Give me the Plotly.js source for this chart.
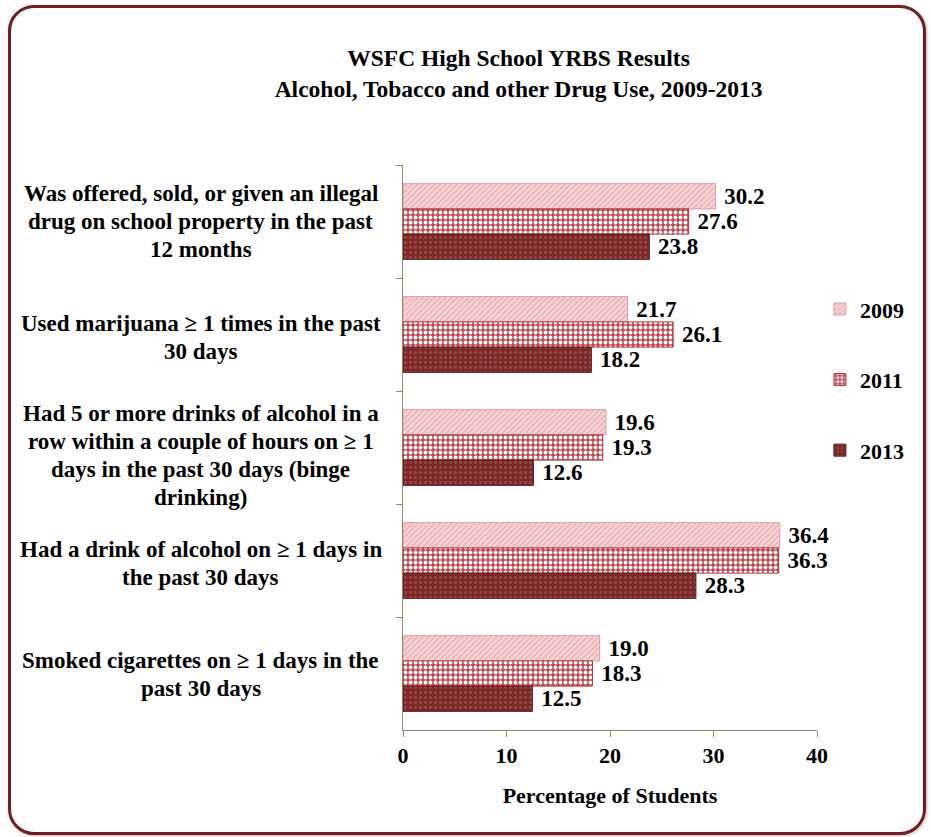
<!DOCTYPE html>
<html>
<head>
<meta charset="utf-8">
<script src="https://cdn.plot.ly/plotly-3.0.1.min.js"></script>
<style>
html,body{margin:0;padding:0;background:#fff;}
#wrap{position:relative;width:931px;height:837px;overflow:hidden;}
#chart{position:absolute;left:0;top:0;width:931px;height:837px;}
#frame{position:absolute;left:8px;top:5px;width:912px;height:824px;border:3px solid #6e1e1e;border-radius:26px;pointer-events:none;box-shadow:1px 1px 3px rgba(110,30,30,0.35);}
</style>
</head>
<body>
<div id="wrap"><div id="chart"></div><div id="frame"></div></div>
<script>
const categories = [
  "Was offered, sold, or given an illegal<br>drug on school property in the past<br>12 months",
  "Used marijuana ≥ 1 times in the past<br>30 days",
  "Had 5 or more drinks of alcohol in a<br>row within a couple of hours on ≥ 1<br>days in the past 30 days (binge<br>drinking)",
  "Had a drink of alcohol on ≥ 1 days in<br>the past 30 days",
  "Smoked cigarettes on ≥ 1 days in the<br>past 30 days"
];
const years = ["2009", "2011", "2013"];
const values2009 = [30.2, 21.7, 19.6, 36.4, 19.0];
const values2011 = [27.6, 26.1, 19.3, 36.3, 18.3];
const values2013 = [23.8, 18.2, 12.6, 28.3, 12.5];
const xTicks = [0, 10, 20, 30, 40];

const serif = "'Liberation Serif', 'Times New Roman', serif";
const series = [values2009, values2011, values2013];
const styles = [
  {color:"#f5c9cc", line:"#e29aa0", pattern:{shape:"/", fgcolor:"#e7a7ac", bgcolor:"#f8d6d8", size:4, solidity:0.3}},
  {color:"#c44a53", line:"#a8343d", pattern:{shape:".", fgcolor:"#ffffff", bgcolor:"#c24852", size:5, solidity:0.45}},
  {color:"#7b2828", line:"#5e1a1a", pattern:{shape:".", fgcolor:"#9a4a4a", bgcolor:"#7b2828", size:5, solidity:0.25}}
];
// small vertical nudges (px) of the category label blocks
const labelNudge = [0, -3, -8, -3, -1];

const traces = years.map((yr, i) => ({
  type: "bar",
  orientation: "h",
  name: "<b>" + yr + "</b>",
  legendgroup: yr,
  y: categories,
  x: series[i],
  marker: {color: styles[i].color, line: {color: styles[i].line, width: 1}, pattern: styles[i].pattern},
  texttemplate: "\u00a0<b>%{x:.1f}</b>",
  textposition: "outside",
  constraintext: "none",
  cliponaxis: false,
  textfont: {family: serif, size: 23, color: "#000"},
  hoverinfo: "x+name"
}));

const annotations = [];
const lineSpacing = 28;
categories.forEach((cat, k) => {
  const lines = cat.split("<br>");
  const n = lines.length;
  lines.forEach((ln, j) => {
    annotations.push({
      xref: "paper", yref: "y", x: -0.488, y: cat,
      text: "<b>" + ln + "</b>", showarrow: false, xanchor: "center", yanchor: "middle",
      yshift: ((n - 1) / 2 - j) * lineSpacing + labelNudge[k],
      font: {family: serif, size: 23, color: "#000"}
    });
  });
});

const axisColor = "#8c8c66";
const layout = {
  width: 931, height: 837,
  paper_bgcolor: "rgba(0,0,0,0)", plot_bgcolor: "rgba(0,0,0,0)",
  margin: {l: 403, r: 114, t: 165, b: 107},
  title: {
    text: "<b>WSFC High School YRBS Results<br>Alcohol, Tobacco and other Drug Use, 2009-2013</b>",
    xref: "container", yref: "container", x: 0.557, y: 0.921, xanchor: "center", yanchor: "middle",
    font: {family: serif, size: 23.5, color: "#000"}
  },
  barmode: "group",
  bargap: 0.33,
  bargroupgap: 0,
  xaxis: {
    range: [0, 40], tickvals: xTicks, ticktext: xTicks.map(v => "<b>" + v + "</b>"),
    showgrid: false, zeroline: false, showline: true, linecolor: axisColor, linewidth: 1,
    ticks: "outside", ticklen: 6, tickcolor: axisColor,
    tickfont: {family: serif, size: 22, color: "#000"},
    title: {text: "<b>Percentage of Students</b>", standoff: 20, font: {family: serif, size: 22, color: "#000"}}
  },
  yaxis: {
    autorange: "reversed", showticklabels: false, showgrid: false, zeroline: false,
    showline: true, linecolor: axisColor, linewidth: 1,
    ticks: "outside", ticklen: 6, tickcolor: axisColor, tickson: "boundaries"
  },
  legend: {
    x: 1.007, xanchor: "left", y: 0.782, yanchor: "top",
    traceorder: "grouped", tracegroupgap: 39, itemwidth: 30,
    font: {family: serif, size: 22, color: "#000"},
    bgcolor: "rgba(0,0,0,0)"
  },
  annotations: annotations,
  showlegend: true
};

Plotly.newPlot("chart", traces, layout, {displayModeBar: false, staticPlot: true});
</script>
</body>
</html>
